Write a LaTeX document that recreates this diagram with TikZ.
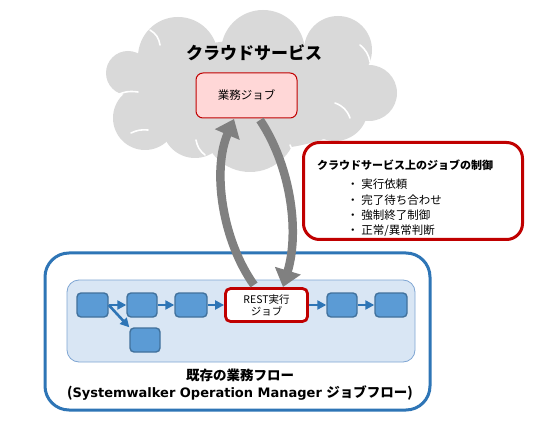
\documentclass[tikz,border=0pt]{standalone}
\usepackage{fontspec}
\setmainfont{Noto Sans CJK JP}
\newfontfamily\latinbold{DejaVu Sans}
\usetikzlibrary{arrows.meta}
\definecolor{cloudgray}{HTML}{D9D9D9}
\definecolor{darkred}{HTML}{C00000}
\definecolor{pinkfill}{HTML}{FFD7D7}
\definecolor{bluedark}{HTML}{2E75B6}
\definecolor{bluelight}{HTML}{D9E6F4}
\definecolor{blueinner}{HTML}{7FA6D3}
\definecolor{boxblue}{HTML}{5B9BD5}
\definecolor{boxedge}{HTML}{41719C}
\definecolor{arrowgray}{HTML}{808080}
\tikzset{
  jobbox/.style={draw=boxedge,line width=1.4pt,fill=boxblue,rounded corners=4pt,minimum width=31pt,minimum height=24pt,inner sep=0pt},
  flowarrow/.style={draw=bluedark,line width=2.6pt,-{Triangle[width=9pt,length=9pt]}},
  bigarrow/.style={draw=arrowgray,line width=8.5pt,-{Triangle[width=26pt,length=17pt]}},
  cloudline/.style={draw=white,line width=1.6pt,line cap=round},
  ctrltext/.style={anchor=west,font=\fontsize{11.5}{13}\selectfont,inner sep=0pt},
}
\begin{document}
\begin{tikzpicture}[x=1pt,y=-1pt]
\useasboundingbox (0,0) rectangle (549,422);
\fill[white] (0,0) rectangle (549,422);
% cloud (drawn as a union of puffs)
\begin{scope}[cloudgray]
\fill (252,95) ellipse [x radius=120, y radius=55];
\fill (128,73) circle [radius=22];
\fill (145,118) circle [radius=32];
\fill (195,125) circle [radius=33];
\fill (250,125) circle [radius=47];
\fill (335,108) circle [radius=33];
\fill (369,93) circle [radius=28];
\fill (338,50) circle [radius=34];
\fill (263,52) circle [radius=42];
\fill (178,57) circle [radius=40];
\end{scope}
\draw[cloudline] (114,97) to[bend left=20] (138,92);
\draw[cloudline] (131,133) to[bend left=15] (148,130);
\draw[cloudline] (196,140) to[bend right=20] (205,155);
\draw[cloudline] (150,30) to[bend left=25] (160,45);
\draw[cloudline] (300,30) to[bend right=20] (308,20);
\draw[cloudline] (360,45) to[bend left=20] (370,62);
\draw[cloudline] (335,103) to[bend left=25] (350,118);
\draw[cloudline] (290,145) to[bend left=10] (294,158);
\node[font=\bfseries\fontsize{17}{20}\selectfont] (cloudtitle) at (254,53) {クラウドサービス};
\node[draw=darkred,line width=1pt,fill=pinkfill,rounded corners=7pt,minimum width=101pt,minimum height=45pt,
      font=\fontsize{11.5}{13}\selectfont] (cjob) at (246.5,95.5) {業務ジョブ};
% control box
\node[draw=darkred,line width=3pt,fill=white,rounded corners=16pt,minimum width=219pt,minimum height=97pt] (ctrl) at (413,191) {};
\node[anchor=west,font=\bfseries\fontsize{11}{13}\selectfont,inner sep=0pt] (ctrltitle) at (317,165) {クラウドサービス上のジョブの制御};
\node[ctrltext] (c1) at (347,184) {・ 実行依頼};
\node[ctrltext] (c2) at (347,200) {・ 完了待ち合わせ};
\node[ctrltext] (c3) at (347,215) {・ 強制終了制御};
\node[ctrltext] (c4) at (347,231) {・ 正常/異常判断};
% existing flow
\node[draw=bluedark,line width=3pt,fill=white,rounded corners=24pt,minimum width=385pt,minimum height=157pt] (outer) at (237.5,331.5) {};
\node[draw=blueinner,line width=0.8pt,fill=bluelight,rounded corners=12pt,minimum width=348pt,minimum height=82pt] (inner) at (241,321) {};
\node[jobbox] (b1) at (92.5,305) {};
\node[jobbox,minimum width=30pt] (b2) at (142,305) {};
\node[jobbox,minimum width=32pt] (b3) at (191,305) {};
\node[draw=darkred,line width=2.8pt,fill=white,rounded corners=5pt,minimum width=82pt,minimum height=33pt,
      align=center,inner sep=0pt,font=\fontsize{10.5}{12}\selectfont] (rest) at (266.5,305) {REST実行\\ジョブ};
\node[jobbox,minimum width=30pt] (b5) at (342,305) {};
\node[jobbox,minimum width=32pt] (b6) at (391,305) {};
\node[jobbox,minimum width=30pt] (b7) at (145,340) {};
\draw[flowarrow] (b1.east) -- (b2.west);
\draw[flowarrow] (b2.east) -- (b3.west);
\draw[flowarrow] (b3.east) -- (rest.west);
\draw[flowarrow] (rest.east) -- (b5.west);
\draw[flowarrow] (b5.east) -- (b6.west);
\draw[flowarrow] (b1.east) -- (b7.north west);
\node[font=\bfseries\fontsize{13.5}{15}\selectfont] (flowtitle1) at (240,375) {既存の業務フロー};
\node[font=\bfseries\fontsize{13.5}{15}\selectfont] (flowtitle2) at (240,393) {({\latinbold\fontsize{13}{15}\selectfont Systemwalker Operation Manager\ }ジョブフロー)};
% big arrows
\coordinate (upstart) at (254,285);
\coordinate (upend) at (234,119);
\coordinate (downstart) at (260,120);
\coordinate (downend) at (283,287);
\draw[bigarrow] (upstart) .. controls (222,240) and (212,170) .. (upend);
\draw[bigarrow] (downstart) .. controls (290,165) and (300,230) .. (downend);
\end{tikzpicture}
\end{document}
